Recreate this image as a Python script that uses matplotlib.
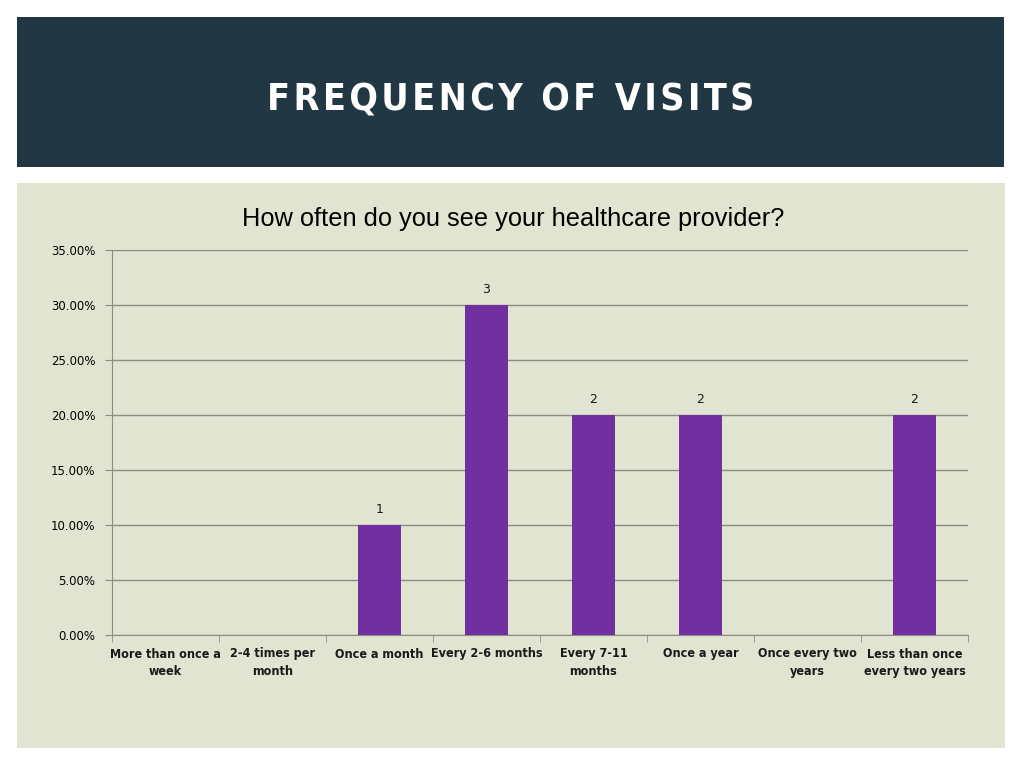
import numpy as np
import matplotlib.pyplot as plt
from matplotlib.patches import Rectangle
from matplotlib.ticker import FuncFormatter

# survey data
CATEGORIES = ['More than once a\nweek', '2-4 times per\nmonth', 'Once a month',
              'Every 2-6 months', 'Every 7-11\nmonths', 'Once a year',
              'Once every two\nyears', 'Less than once\nevery two years']
PERCENTS = [0.0, 0.0, 10.0, 30.0, 20.0, 20.0, 0.0, 20.0]
COUNTS = [0, 0, 1, 3, 2, 2, 0, 2]

W, H = 1024, 768
fig = plt.figure(figsize=(W / 100, H / 100), dpi=100)
fig.patch.set_facecolor('white')

# header band
fig.patches.append(Rectangle((17 / W, 1 - 167 / H), 987 / W, 150 / H,
                             transform=fig.transFigure, facecolor='#213744',
                             edgecolor='none', zorder=-10))
fig.text(511 / W, 1 - 101 / H, '\u200a'.join('FREQUENCY OF VISITS'),
         color='white', fontsize=27, fontweight='bold', ha='center', va='center',
         family='DejaVu Sans', fontstretch='condensed')

# chart panel
fig.patches.append(Rectangle((17 / W, 1 - 748 / H), 988 / W, 565 / H,
                             transform=fig.transFigure, facecolor='#E0E4D0',
                             edgecolor='none', zorder=-10))
fig.text(513 / W, 1 - 219 / H, 'How often do you see your healthcare provider?',
         fontsize=18.3, ha='center', va='center', family='Liberation Sans',
         fontstretch='condensed')

ax = fig.add_axes([112 / W, 1 - 635 / H, 856 / W, 385 / H])
ax.set_facecolor('none')

x = np.arange(len(CATEGORIES))
bars = ax.bar(x, PERCENTS, width=0.4, color='#7030A0', zorder=3)
for xi, p, c in zip(x, PERCENTS, COUNTS):
    if c:
        ax.text(xi, p + 0.8, str(c), ha='center', va='bottom', fontsize=9,
                family='DejaVu Sans', color='#1a1a1a')

ax.set_xlim(-0.5, len(CATEGORIES) - 0.5)
ax.set_ylim(0, 35)
ax.set_yticks(np.arange(0, 36, 5))
ax.yaxis.set_major_formatter(FuncFormatter(lambda v, _: f'{v:.2f}%'))
ax.grid(axis='y', color='#8C8C84', linewidth=1, zorder=0)
ax.set_axisbelow(True)
ax.set_xticks(x)
ax.set_xticklabels(CATEGORIES, fontsize=9, fontweight='bold', color='#1a1a1a',
                   family='DejaVu Sans', fontstretch='condensed')
ax.set_xticks(np.arange(-0.5, len(CATEGORIES)), minor=True)
ax.tick_params(axis='x', which='major', length=0, pad=9)
ax.tick_params(axis='x', which='minor', length=5, color='#8C8C84')
ax.tick_params(axis='y', length=5, color='#8C8C84', labelsize=8.5, pad=7)
for lbl in ax.get_xticklabels():
    lbl.set_linespacing(1.45)
for side in ['top', 'right']:
    ax.spines[side].set_visible(False)
ax.spines['left'].set_color('#8C8C84')
ax.spines['bottom'].set_color('#8C8C84')

fig.savefig('out.png', dpi=100)
